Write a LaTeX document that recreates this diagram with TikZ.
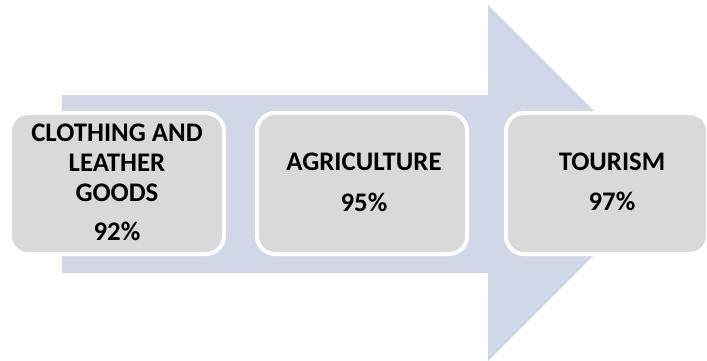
\documentclass[tikz,border=0pt]{standalone}
\usepackage{fontspec}
\setmainfont{Carlito}
\definecolor{arrowblue}{HTML}{D0D8E8}
\definecolor{boxgray}{HTML}{D9D9D9}
\tikzset{
  stagebox/.style={draw=white, line width=4pt, fill=boxgray, rounded corners=18pt, rectangle, minimum height=141pt, inner sep=0pt},
  lbl/.style={font=\bfseries\fontsize{26.8}{30}\selectfont, anchor=base, inner sep=0pt, text=black}
}
\begin{document}
\begin{tikzpicture}[x=1pt,y=-1pt]
\useasboundingbox (0,0) rectangle (707,360);
\clip (0,0) rectangle (707,360);
\fill[arrowblue] (62,95) -- (488,95) -- (488,5) -- (666,183) -- (488,361) -- (488,273) -- (62,273) -- cycle;
\node[stagebox, minimum width=214pt] (b1) at (117,183.5) {};
\node[stagebox, minimum width=210pt] (b2) at (362,183.5) {};
\node[stagebox, minimum width=202pt] (b3) at (607,183.5) {};
\node[lbl] (t1a) at (117,141.7) {CLOTHING AND};
\node[lbl] (t1b) at (117,171.7) {LEATHER};
\node[lbl] (t1c) at (117,201.7) {GOODS};
\node[lbl] (t1d) at (117,240) {92\%};
\node[lbl] (t2a) at (364,170) {AGRICULTURE};
\node[lbl] (t2b) at (364,211) {95\%};
\node[lbl] (t3a) at (612,170) {TOURISM};
\node[lbl] (t3b) at (612,210) {97\%};
\end{tikzpicture}
\end{document}
